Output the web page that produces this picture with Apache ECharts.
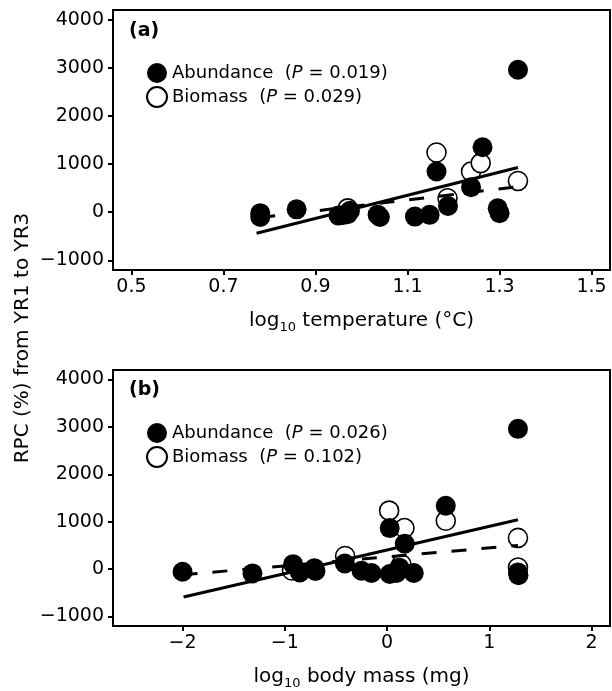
<!DOCTYPE html>
<html>
<head>
	<meta charset="UTF-8">
	<title></title>
	<script src="https://cdn.jsdelivr.net/npm/echarts@6/dist/echarts.min.js"></script>
	<style>
		html, body { margin: 0; padding: 0; background: #fff; }
	</style>
</head>
<body>

<div id="main" style="width: 612px;height:691px;"></div>

<script>
	// tick labels
	var tempTicks = [0.5, 0.7, 0.9, 1.1, 1.3, 1.5];
	var massTicks = [-2, -1, 0, 1, 2];
	var rpcTicks = [-1000, 0, 1000, 2000, 3000, 4000];

	// (a) temperature
	var tempAbundX = [0.78, 0.78, 0.859, 0.95, 0.96, 0.97, 0.975, 1.035, 1.04, 1.116, 1.148, 1.163, 1.188, 1.238, 1.263, 1.296, 1.30, 1.34];
	var tempAbundY = [-20, -100, 60, -70, -60, -40, 30, -50, -100, -90, -55, 845, 130, 520, 1350, 80, -20, 2960];
	var tempBioX = [0.97, 1.163, 1.187, 1.238, 1.259, 1.34];
	var tempBioY = [80, 1240, 290, 845, 1020, 650];
	var tempAbundFitX = [0.772, 1.34];
	var tempAbundFitY = [-437, 929];
	var tempBioFitX = [0.78, 1.34];
	var tempBioFitY = [-110, 530];

	// (b) body mass
	var massAbundX = [-2.0, -1.316, -0.919, -0.853, -0.71, -0.70, -0.413, -0.25, -0.152, 0.026, 0.026, 0.092, 0.12, 0.173, 0.261, 0.574, 1.28, 1.28, 1.285];
	var massAbundY = [-55, -90, 104, -69, 20, -40, 118, -35, -83, 866, -104, -83, 30, 534, -83, 1337, 2959, -70, -130];
	var massBioX = [-0.93, -0.41, 0.02, 0.14, 0.17, 0.574, 1.28, 1.28];
	var massBioY = [-30, 277, 1233, 104, 866, 1019, 658, 35];
	var massAbundFitX = [-1.99, 1.28];
	var massAbundFitY = [-590, 1040];
	var massBioFitX = [-2.0, 1.28];
	var massBioFitY = [-120, 500];

	var legendText = {
		'Abundance a': '{n|Abundance  (}{i|P}{n| = 0.019)}',
		'Biomass a': '{n|Biomass  (}{i|P}{n| = 0.029)}',
		'Abundance b': '{n|Abundance  (}{i|P}{n| = 0.026)}',
		'Biomass b': '{n|Biomass  (}{i|P}{n| = 0.102)}'
	};

	var FONT = 'DejaVu Sans';

	function pairs(xs, ys){
		var out = [];
		for(var i=0;i<xs.length;i++){
			out.push([xs[i], ys[i]]);
		}
		return out;
	}

	function minus(v){
		return String(v).replace('-', '\u2212');
	}

	function xAxisFor(idx, min, max, ticks, fmt, title){
		return {
			type: 'value',
			gridIndex: idx,
			min: min,
			max: max,
			splitLine: { show: false },
			axisLine: { show: true, onZero: false, lineStyle: { color: '#000', width: 2 } },
			axisTick: { show: true, inside: false, length: 5, customValues: ticks, lineStyle: { color: '#000', width: 2 } },
			axisLabel: { customValues: ticks, formatter: fmt, color: '#000', fontSize: 19, fontFamily: FONT, margin: 8 },
			name: '{n|log}{s|10}{n| ' + title + '}',
			nameLocation: 'middle',
			nameGap: 38,
			nameTextStyle: {
				color: '#000',
				rich: {
					n: { fontSize: 20, fontFamily: FONT, color: '#000', lineHeight: 26 },
					s: { fontSize: 13, fontFamily: FONT, color: '#000', lineHeight: 13, verticalAlign: 'bottom' }
				}
			}
		};
	}

	function yAxisFor(idx){
		return {
			type: 'value',
			gridIndex: idx,
			min: -1200,
			max: 4200,
			splitLine: { show: false },
			axisLine: { show: true, onZero: false, lineStyle: { color: '#000', width: 2 } },
			axisTick: { show: true, inside: false, length: 5, customValues: rpcTicks, lineStyle: { color: '#000', width: 2 } },
			axisLabel: { customValues: rpcTicks, formatter: minus, color: '#000', fontSize: 19, fontFamily: FONT, margin: 9 }
		};
	}

	function legendFor(names, top){
		return {
			data: names,
			orient: 'vertical',
			left: 141,
			top: top,
			itemWidth: 20,
			itemHeight: 20,
			itemGap: 3,
			icon: 'circle',
			formatter: function(name){ return legendText[name]; },
			textStyle: {
				rich: {
					n: { fontSize: 18, fontFamily: FONT, color: '#000' },
					i: { fontSize: 18, fontFamily: FONT, color: '#000', fontStyle: 'italic' }
				}
			}
		};
	}

	function filled(name, idx, data){
		return {
			name: name, type: 'scatter', xAxisIndex: idx, yAxisIndex: idx,
			symbol: 'circle', symbolSize: 20, z: 4,
			itemStyle: { color: '#000', opacity: 1 },
			emphasis: { disabled: true },
			data: data
		};
	}

	function hollow(name, idx, data){
		return {
			name: name, type: 'scatter', xAxisIndex: idx, yAxisIndex: idx,
			symbol: 'circle', symbolSize: 19, z: 2,
			itemStyle: { color: '#fff', borderColor: '#000', borderWidth: 1.6, opacity: 1 },
			emphasis: { disabled: true },
			data: data
		};
	}

	function fit(idx, data, dashed){
		return {
			type: 'line', xAxisIndex: idx, yAxisIndex: idx,
			symbol: 'none', z: 3, silent: true,
			lineStyle: { color: '#000', width: 3, type: dashed ? [15, 15] : 'solid', cap: 'butt' },
			data: data
		};
	}

	var myChart = echarts.init(document.getElementById('main'));
	var option = {
		animation: false,
		backgroundColor: '#fff',
		title: [
			{ text: '(a)', left: 124, top: 17, textStyle: { fontSize: 19, fontWeight: 'bold', fontFamily: FONT, color: '#000' } },
			{ text: '(b)', left: 124, top: 376, textStyle: { fontSize: 19, fontWeight: 'bold', fontFamily: FONT, color: '#000' } }
		],
		legend: [
			legendFor(['Abundance a', 'Biomass a'], 58),
			legendFor(['Abundance b', 'Biomass b'], 418)
		],
		grid: [
			{ left: 113, top: 10, width: 497, height: 260, show: true, borderColor: '#000', borderWidth: 2 },
			{ left: 113, top: 370, width: 497, height: 259, show: true, borderColor: '#000', borderWidth: 2 }
		],
		xAxis: [
			xAxisFor(0, 0.46, 1.54, tempTicks, function(v){ return v.toFixed(1); }, 'temperature (°C)'),
			xAxisFor(1, -2.68, 2.18, massTicks, minus, 'body mass (mg)')
		],
		yAxis: [ yAxisFor(0), yAxisFor(1) ],
		graphic: [{
			type: 'text',
			x: 23,
			y: 338,
			rotation: Math.PI / 2,
			style: { text: 'RPC (%) from YR1 to YR3', font: '20px "DejaVu Sans"', fill: '#000', align: 'center', verticalAlign: 'middle' }
		}],
		series: [
			hollow('Biomass a', 0, pairs(tempBioX, tempBioY)),
			fit(0, pairs(tempAbundFitX, tempAbundFitY), false),
			fit(0, pairs(tempBioFitX, tempBioFitY), true),
			filled('Abundance a', 0, pairs(tempAbundX, tempAbundY)),
			hollow('Biomass b', 1, pairs(massBioX, massBioY)),
			fit(1, pairs(massAbundFitX, massAbundFitY), false),
			fit(1, pairs(massBioFitX, massBioFitY), true),
			filled('Abundance b', 1, pairs(massAbundX, massAbundY))
		]
	};
	myChart.setOption(option);
</script>
</body>
</html>
